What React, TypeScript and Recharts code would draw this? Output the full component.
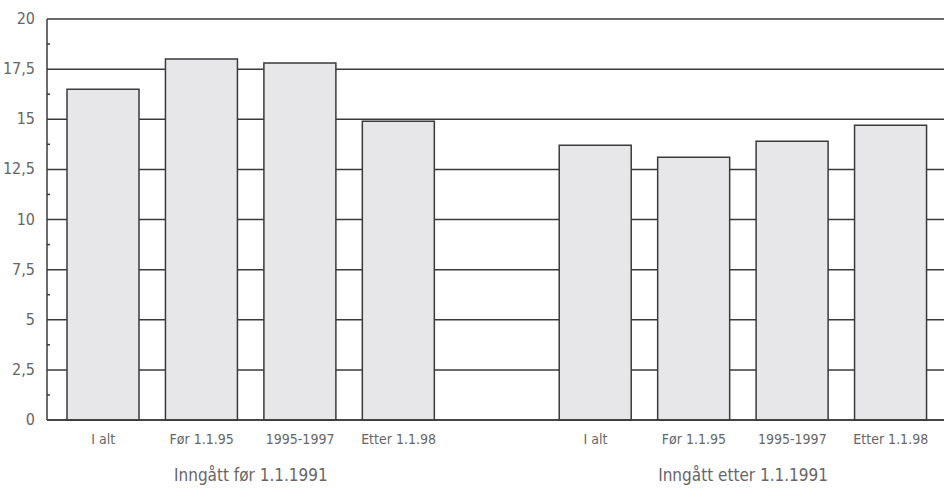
import React from 'react';
import { BarChart, Bar, XAxis, YAxis, CartesianGrid } from 'recharts';

const categories = ['I alt', 'Før 1.1.95', '1995-1997', 'Etter 1.1.98', '', 'I alt', 'Før 1.1.95', '1995-1997', 'Etter 1.1.98'];
const values = [16.5, 18.0, 17.8, 14.9, null, 13.7, 13.1, 13.9, 14.7];
const groupLabels = ['Inngått før 1.1.1991', 'Inngått etter 1.1.1991'];
const groupCenters = [2, 7];
const majorTicks = [0, 2.5, 5, 7.5, 10, 12.5, 15, 17.5, 20];
const allTicks = [0, 1.25, 2.5, 3.75, 5, 6.25, 7.5, 8.75, 10, 11.25, 12.5, 13.75, 15, 16.25, 17.5, 18.75, 20];

const data = categories.map((name, i) => ({ name, value: values[i], pos: i + 0.5 }));

const FONT = '"Liberation Sans Narrow", "DejaVu Sans Condensed", sans-serif';
const TEXT = '#666';
const LINE = '#3a3a3a';

const YTick = (props: any) => {
    const { x, y, payload } = props;
    const v = payload.value;
    if (majorTicks.includes(v)) {
        return (
            <text x={x} y={y} dy={5} textAnchor="end" fill={TEXT} fontSize={16} fontFamily={FONT}>
                {String(v).replace('.', ',')}
            </text>
        );
    }
    return <line x1={x + 12} x2={x + 15} y1={y} y2={y} stroke={LINE} strokeWidth={1.5} />;
};

const App: React.FC = () => {
    return (
        <div style={{ position: 'absolute', left: 0, top: 0, background: '#fff' }}>
            <BarChart width={944} height={494} data={data} margin={{ top: 19, right: 0, left: 0, bottom: 0 }}>
                <CartesianGrid vertical={false} horizontalValues={majorTicks} stroke={LINE} strokeWidth={1.5} />
                <XAxis
                    dataKey="name"
                    interval={0}
                    axisLine={{ stroke: LINE, strokeWidth: 1.5 }}
                    tickLine={false}
                    padding={{ left: 7, right: 4 }}
                    height={36}
                    tick={{ fill: TEXT, fontSize: 14, fontFamily: FONT }}
                    tickMargin={8}
                />
                <XAxis
                    xAxisId="group"
                    dataKey="pos"
                    type="number"
                    domain={[0, 9]}
                    ticks={groupCenters}
                    interval={0}
                    axisLine={false}
                    tickLine={false}
                    padding={{ left: 7, right: 4 }}
                    height={38}
                    tickMargin={7}
                    tick={{ fill: TEXT, fontSize: 17, fontFamily: FONT }}
                    tickFormatter={(v: number) => groupLabels[groupCenters.indexOf(v)]}
                />
                <YAxis
                    domain={[0, 20]}
                    ticks={allTicks}
                    interval={0}
                    width={47}
                    axisLine={{ stroke: LINE, strokeWidth: 1.5 }}
                    tickLine={false}
                    tickSize={0}
                    tickMargin={12}
                    tick={<YTick />}
                />
                <Bar dataKey="value" barSize={72} fill="#e7e7e9" stroke={LINE} strokeWidth={1.5} isAnimationActive={false} />
            </BarChart>
        </div>
    );
};

export default App;
